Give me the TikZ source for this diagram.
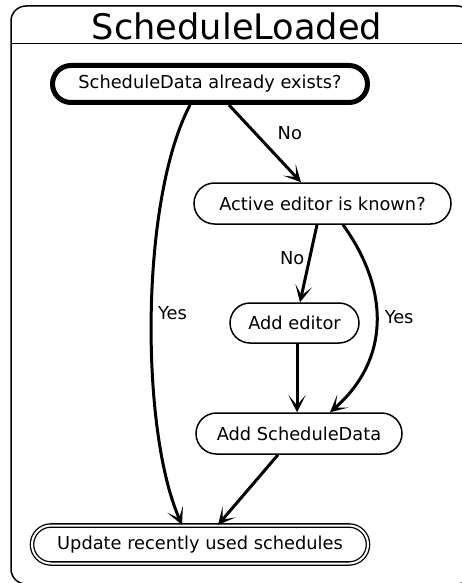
\documentclass[tikz,border=0pt]{standalone}
\usepackage{fontspec}
\setmainfont{DejaVu Sans}
\usetikzlibrary{shapes.misc,arrows.meta,calc}

\tikzset{
  stadium/.style={rounded rectangle, draw, line width=1.5pt, inner sep=0pt,
    font=\fontsize{17.8}{20}\selectfont},
  flow/.style={line width=3pt, -{Stealth[length=17pt,width=17pt,inset=10pt]}},
  edgelabel/.style={font=\fontsize{17.8}{20}\selectfont, inner sep=0pt},
}

\begin{document}
\begin{tikzpicture}[x=1pt, y=-1pt]
  \useasboundingbox (0,0) rectangle (461,583);

  % state frame with title compartment
  \draw[line width=1.5pt, rounded corners=15pt] (11,6) rectangle (472,584);
  \draw[line width=1.5pt] (11,43.5) -- (472,43.5);
  \node (title) at (237,26) {\fontsize{35.2}{40}\selectfont ScheduleLoaded};

  % activity steps
  \node[stadium, line width=5pt, minimum width=315pt, minimum height=37pt]
    (exists) at (210,84) {ScheduleData already exists?};
  \node[stadium, minimum width=257pt, minimum height=41pt]
    (known) at (322.5,203.5) {Active editor is known?};
  \node[stadium, minimum width=129pt, minimum height=40pt]
    (addeditor) at (294.5,323) {Add editor};
  \node[stadium, minimum width=206pt, minimum height=41pt]
    (adddata) at (299,433.5) {Add ScheduleData};
  \node[stadium, line width=1.3pt, double, double distance=2pt,
        minimum width=336pt, minimum height=38pt]
    (update) at (200,544.5) {Update recently used schedules};

  % transitions
  \draw[flow] ([xshift=-20pt]exists.south)
    .. controls (140,200) and (140,430) .. ([xshift=-18pt]update.north)
    node[edgelabel, pos=0.5, xshift=21pt, yshift=2pt] {Yes};
  \draw[flow] ([xshift=19pt]exists.south) -- ([xshift=-21.5pt]known.north)
    node[edgelabel, pos=0.4, xshift=32pt, yshift=3pt] {No};
  \draw[flow] ([xshift=-5.5pt]known.south) -- ([xshift=5.5pt]addeditor.north)
    node[edgelabel, pos=0.4, xshift=-18pt, yshift=-2pt] {No};
  \draw[flow] ([xshift=20.5pt]known.south)
    .. controls (390,290) and (390,360) .. ([xshift=31pt]adddata.north)
    node[edgelabel, pos=0.5, xshift=22.5pt, yshift=6pt] {Yes};
  \draw[flow] ([xshift=2.5pt]addeditor.south) -- ([xshift=-2pt]adddata.north);
  \draw[flow] ([xshift=-21pt]adddata.south) -- ([xshift=18pt]update.north);
\end{tikzpicture}
\end{document}
